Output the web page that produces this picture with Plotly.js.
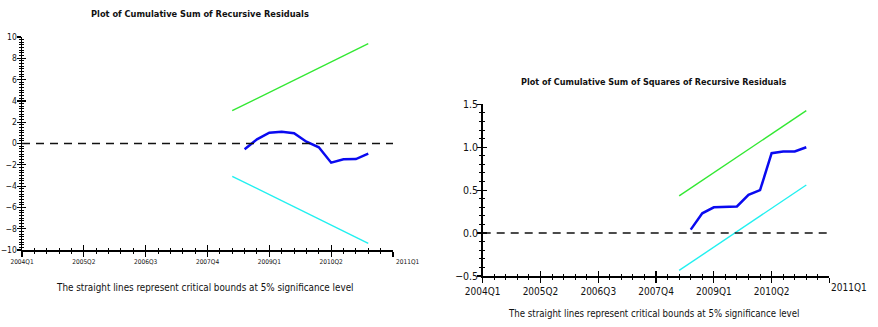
<!DOCTYPE html>
<html>
<head>
<meta charset="utf-8">
<script src="https://cdn.plot.ly/plotly-3.0.1.min.js"></script>
<style>html,body{margin:0;padding:0;background:#fff}#chart{width:878px;height:327px}</style>
</head>
<body>
<div id="chart"></div>
<script>
// ---- data ----
var tickQuarters = ['2004Q1', '2005Q2', '2006Q3', '2007Q4', '2009Q1', '2010Q2', '2011Q3'];
var tickLabels   = ['2004Q1', '2005Q2', '2006Q3', '2007Q4', '2009Q1', '2010Q2', ''];
var endLabel     = '2011Q1';

var residPeriods = ['2008Q3', '2008Q4', '2009Q1', '2009Q2', '2009Q3', '2009Q4',
                    '2010Q1', '2010Q2', '2010Q3', '2010Q4', '2011Q1'];
var cusum   = [-0.54, 0.39, 1.01, 1.11, 0.96, 0.17, -0.36, -1.80, -1.48, -1.46, -0.96];
var cusumsq = [0.04, 0.23, 0.30, 0.305, 0.31, 0.445, 0.50, 0.93, 0.95, 0.95, 1.00];

var boundPeriods = ['2008Q2', '2011Q1'];
var cusumUpper   = [3.08, 9.37];
var cusumLower   = [-3.08, -9.37];
var cusumsqUpper = [0.434, 1.426];
var cusumsqLower = [-0.435, 0.56];

var title1 = 'Plot of Cumulative Sum of Recursive Residuals';
var title2 = 'Plot of Cumulative Sum of Squares of Recursive Residuals';
var note   = 'The straight lines represent critical bounds at 5% significance level';

// quarter label -> quarters since 2004Q1
function qIndex(s) { return (parseInt(s.slice(0, 4), 10) - 2004) * 4 + (parseInt(s.slice(5), 10) - 1); }
var tickVals = tickQuarters.map(qIndex);
var residX = residPeriods.map(qIndex);
var boundX = boundPeriods.map(qIndex);
var xMax = tickVals[tickVals.length - 1];

var FONT = '"DejaVu Sans Condensed", "Liberation Sans", Arial, sans-serif';
var BLUE = '#0a0af0', GREEN = '#33e833', CYAN = '#22f0f0';

var traces = [
  {x: boundX, y: cusumUpper, xaxis: 'x', yaxis: 'y', mode: 'lines', line: {color: GREEN, width: 1.4}},
  {x: boundX, y: cusumLower, xaxis: 'x', yaxis: 'y', mode: 'lines', line: {color: CYAN, width: 1.4}},
  {x: residX, y: cusum, xaxis: 'x', yaxis: 'y', mode: 'lines', line: {color: BLUE, width: 2.5}},
  {x: boundX, y: cusumsqUpper, xaxis: 'x2', yaxis: 'y2', mode: 'lines', line: {color: GREEN, width: 1.4}},
  {x: boundX, y: cusumsqLower, xaxis: 'x2', yaxis: 'y2', mode: 'lines', line: {color: CYAN, width: 1.4}},
  {x: residX, y: cusumsq, xaxis: 'x2', yaxis: 'y2', mode: 'lines', line: {color: BLUE, width: 2.5}},
  {x: [], y: [], xaxis: 'x3', yaxis: 'y3', mode: 'lines'},
  {x: [], y: [], xaxis: 'x4', yaxis: 'y4', mode: 'lines'}
];

var D1x = [22 / 878, 393 / 878], D1y = [(327 - 250) / 327, (327 - 37) / 327];
var D2x = [482.7 / 878, 829.4 / 878], D2y = [(327 - 276) / 327, (327 - 104.3) / 327];

function xax(domain, anchor, fontSize, inside, overlay) {
  var a = {
    domain: domain, anchor: anchor, range: [0, xMax], tickmode: 'array',
    tickvals: tickVals, ticktext: tickLabels, showgrid: false, zeroline: false,
    showline: !inside, linecolor: '#000', linewidth: 1.5,
    ticks: inside ? 'inside' : 'outside', ticklen: 5, tickwidth: 1.2, tickcolor: '#000',
    minor: {dtick: 1, tick0: 0, ticks: inside ? 'inside' : 'outside', ticklen: 2.5, tickwidth: 1, tickcolor: '#000', showgrid: false},
    showticklabels: !inside, tickfont: {family: FONT, size: fontSize, color: '#111'}, fixedrange: true
  };
  if (overlay) a.overlaying = overlay;
  return a;
}
function yax(domain, anchor, range, dtick, mdtick, fmt, fontSize, standoff, inside, overlay) {
  var a = {
    domain: domain, anchor: anchor, range: range, dtick: dtick, tick0: 0, tickformat: fmt,
    showgrid: false, zeroline: false, showline: !inside, linecolor: '#000', linewidth: 1.5,
    ticks: inside ? 'inside' : 'outside', ticklen: 4, tickwidth: 1.2, tickcolor: '#000',
    minor: {dtick: mdtick, tick0: 0, ticks: inside ? 'inside' : 'outside', ticklen: 2, tickwidth: 1, tickcolor: '#000', showgrid: false},
    showticklabels: !inside, tickfont: {family: FONT, size: fontSize, color: '#111'}, fixedrange: true,
    ticklabelstandoff: standoff
  };
  if (overlay) a.overlaying = overlay;
  return a;
}

var layout = {
  width: 878, height: 327, margin: {l: 0, r: 0, t: 0, b: 0},
  paper_bgcolor: '#fff', plot_bgcolor: 'rgba(0,0,0,0)', showlegend: false,
  xaxis:  xax(D1x, 'y', 6.5, false),
  yaxis:  yax(D1y, 'x', [-10, 10], 2, 0.25, 'd', 8.5, -2, false),
  xaxis2: xax(D2x, 'y2', 10, false),
  yaxis2: yax(D2y, 'x2', [-0.5, 1.5], 0.5, 0.1, '.1f', 10.5, -3, false),
  xaxis3: xax(D1x, 'y3', 6.5, true, 'x'),
  yaxis3: yax(D1y, 'x3', [-10, 10], 2, 0.25, 'd', 8.5, 0, true, 'y'),
  xaxis4: xax(D2x, 'y4', 10, true, 'x2'),
  yaxis4: yax(D2y, 'x4', [-0.5, 1.5], 0.5, 0.1, '.1f', 10.5, 0, true, 'y2'),
  shapes: [
    {type: 'line', xref: 'x domain', yref: 'y', x0: 0, x1: 1, y0: 0, y1: 0, line: {color: '#111', width: 1.4, dash: '8px,6px'}},
    {type: 'line', xref: 'x2 domain', yref: 'y2', x0: 0, x1: 1, y0: 0, y1: 0, line: {color: '#111', width: 1.4, dash: '8px,6px'}}
  ],
  annotations: [
    {text: '<b>' + title1 + '</b>', xref: 'paper', yref: 'paper', x: 200 / 878, y: 1 - 13.5 / 327, xanchor: 'center', yanchor: 'middle', showarrow: false, font: {family: FONT, size: 9.2, color: '#111'}},
    {text: '<b>' + title2 + '</b>', xref: 'paper', yref: 'paper', x: 653 / 878, y: 1 - 81.5 / 327, xanchor: 'center', yanchor: 'middle', showarrow: false, font: {family: FONT, size: 9, color: '#111'}},
    {text: note, xref: 'paper', yref: 'paper', x: 204.5 / 878, y: 1 - 287 / 327, xanchor: 'center', yanchor: 'middle', showarrow: false, font: {family: FONT, size: 9.8, color: '#111'}},
    {text: note, xref: 'paper', yref: 'paper', x: 653 / 878, y: 1 - 313 / 327, xanchor: 'center', yanchor: 'middle', showarrow: false, font: {family: FONT, size: 9.6, color: '#111'}},
    {text: endLabel, xref: 'x', yref: 'paper', x: xMax, xshift: 14, y: 1 - 262 / 327, xanchor: 'center', yanchor: 'middle', showarrow: false, font: {family: FONT, size: 6.5, color: '#111'}},
    {text: endLabel, xref: 'x2', yref: 'paper', x: xMax, xshift: 20, y: 1 - 287 / 327, xanchor: 'center', yanchor: 'middle', showarrow: false, font: {family: FONT, size: 10, color: '#111'}}
  ]
};

Plotly.newPlot('chart', traces, layout, {displayModeBar: false, staticPlot: true});
</script>
</body>
</html>
